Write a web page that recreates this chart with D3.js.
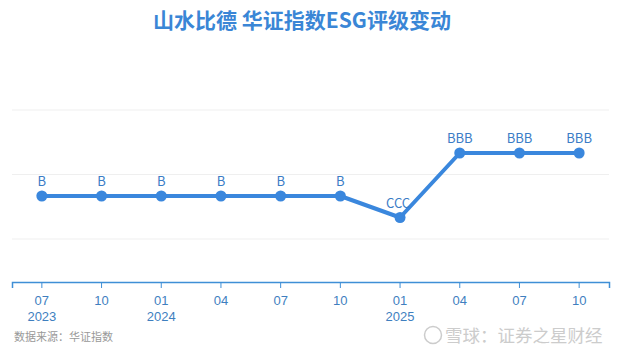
<!DOCTYPE html>
<html>
<head>
<meta charset="utf-8">
<script src="https://cdn.jsdelivr.net/npm/d3@7"></script>
<style>
  body { margin: 0; background: #fff; }
  svg { display: block; font-family: "Noto Sans CJK SC", "Open Sans", sans-serif; }
</style>
</head>
<body>
<svg id="chart"></svg>
<script>
const months = ["07", "10", "01", "04", "07", "10", "01", "04", "07", "10"];
const years = ["2023", "", "2024", "", "", "", "2025", "", "", ""];
const ratings = ["B", "B", "B", "B", "B", "B", "CCC", "BBB", "BBB", "BBB"];
const ratingLevel = { CCC: 1, B: 2, BB: 3, BBB: 4 };

const width = 618;
const height = 355;
const margin = { left: 12, right: 9, top: 110, bottom: 73 };

const svg = d3.select("#chart").attr("width", width).attr("height", height);

const x = d3
  .scaleBand()
  .domain(d3.range(months.length))
  .range([margin.left, width - margin.right]);

const y = d3
  .scaleLinear()
  .domain([-2, 6])
  .range([height - margin.bottom, margin.top]);

// grid lines
svg
  .append("g")
  .selectAll("line")
  .data([0, 3, 6])
  .join("line")
  .attr("x1", margin.left)
  .attr("x2", width - margin.right)
  .attr("y1", (d) => y(d))
  .attr("y2", (d) => y(d))
  .attr("stroke", "#efefef")
  .attr("stroke-width", 1);

// x axis
const axis = svg
  .append("g")
  .attr("transform", `translate(0,${height - margin.bottom})`)
  .call(d3.axisBottom(x).tickSize(6).tickFormat((i) => months[i]));

axis.select(".domain").attr("stroke", "#3f8fd6").attr("stroke-width", 1.5);
axis.selectAll(".tick line").attr("stroke", "#3f8fd6");
axis
  .selectAll(".tick text")
  .attr("fill", "#3f7fbf")
  .attr("font-size", 13)
  .attr("dy", "1.1em");

axis
  .selectAll(".tick")
  .append("text")
  .attr("fill", "#3f7fbf")
  .attr("font-size", 13)
  .attr("y", 30)
  .attr("dy", "0.71em")
  .attr("text-anchor", "middle")
  .text((i) => years[i]);

// line
const cx = (i) => x(i) + x.bandwidth() / 2;
const line = d3
  .line()
  .x((d, i) => cx(i))
  .y((d) => y(ratingLevel[d]));

svg
  .append("path")
  .datum(ratings)
  .attr("d", line)
  .attr("fill", "none")
  .attr("stroke", "#3a87dd")
  .attr("stroke-width", 4)
  .attr("stroke-linejoin", "round");

svg
  .append("g")
  .selectAll("circle")
  .data(ratings)
  .join("circle")
  .attr("cx", (d, i) => cx(i))
  .attr("cy", (d) => y(ratingLevel[d]))
  .attr("r", 5.5)
  .attr("fill", "#3a87dd");

// point labels
svg
  .append("g")
  .selectAll("text")
  .data(ratings)
  .join("text")
  .attr("x", (d, i) => cx(i) - (d === "CCC" ? 2 : 0))
  .attr("y", (d) => y(ratingLevel[d]) - 10)
  .attr("text-anchor", "middle")
  .attr("font-size", 13)
  .attr("fill", "#3b7cc6")
  .text((d) => d);

// title
svg
  .append("text")
  .attr("x", 302)
  .attr("y", 28)
  .attr("text-anchor", "middle")
  .attr("font-size", 21)
  .attr("font-weight", "bold")
  .attr("fill", "#3a86d6")
  .text("山水比德 华证指数ESG评级变动");

// footer
svg
  .append("text")
  .attr("x", 14)
  .attr("y", 341)
  .attr("font-size", 11)
  .attr("fill", "#999")
  .text("数据来源：华证指数");

const wm = svg.append("g").attr("fill", "#cccccc");
wm.append("circle")
  .attr("cx", 433)
  .attr("cy", 335)
  .attr("r", 8.5)
  .attr("fill", "none")
  .attr("stroke", "#cccccc")
  .attr("stroke-width", 1.5);
wm.append("text")
  .attr("x", 445)
  .attr("y", 342)
  .attr("font-size", 17.5)
  .text("雪球：证券之星财经");
</script>
</body>
</html>
